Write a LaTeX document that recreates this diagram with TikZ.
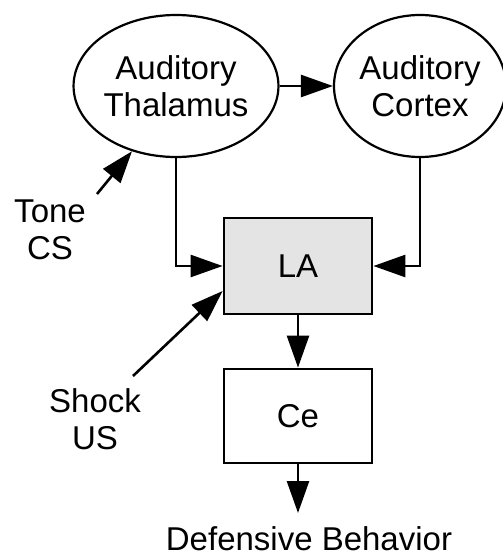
\documentclass[tikz,border=0pt]{standalone}
\usepackage{fontspec}
\setmainfont{Liberation Sans}
\usetikzlibrary{shapes.geometric,arrows.meta,calc}
\definecolor{lagray}{RGB}{228,228,228}
\begin{document}
\begin{tikzpicture}[x=1pt,y=-1pt,
  lbl/.style={font=\fontsize{33}{37}\selectfont, align=center, inner sep=0pt},
  region/.style={ellipse, draw, line width=2.2pt, minimum width=184pt, minimum height=142pt, inner sep=0pt, lbl},
  box/.style={rectangle, draw, line width=2.8pt, minimum width=148pt, minimum height=96pt, lbl},
  arr/.style={line width=2.6pt, -{Triangle[length=32pt,width=22pt]}}]
\useasboundingbox (0,0) rectangle (503,555);
\node[region] (thal) at (176,86) {Auditory\\Thalamus};
\node[region, minimum width=172pt] (cort) at (420,86) {Auditory\\Cortex};
\node[box, fill=lagray] (LA) at (298,266) {LA};
\node[box, minimum height=94pt] (Ce) at (298,416) {Ce};
\node[lbl] (tone) at (50,230) {Tone\\CS};
\node[lbl] (shock) at (95,419) {Shock\\US};
\node[lbl, anchor=base] (def) at (309,550) {Defensive Behavior};
\coordinate (toneA) at (97,194);
\coordinate (shockA) at (133,376);
\coordinate (defA) at (298,513);
\draw[arr] (thal.east) -- (cort.west);
\draw[arr] (toneA) -- (thal.236);
\draw[arr] (shockA) -- ([yshift=-25pt]LA.west);
\draw[arr] (thal.south) |- (LA.west);
\draw[arr] (cort.south) |- (LA.east);
\draw[arr] (LA.south) -- (Ce.north);
\draw[arr] (Ce.south) -- (defA);
\end{tikzpicture}
\end{document}
